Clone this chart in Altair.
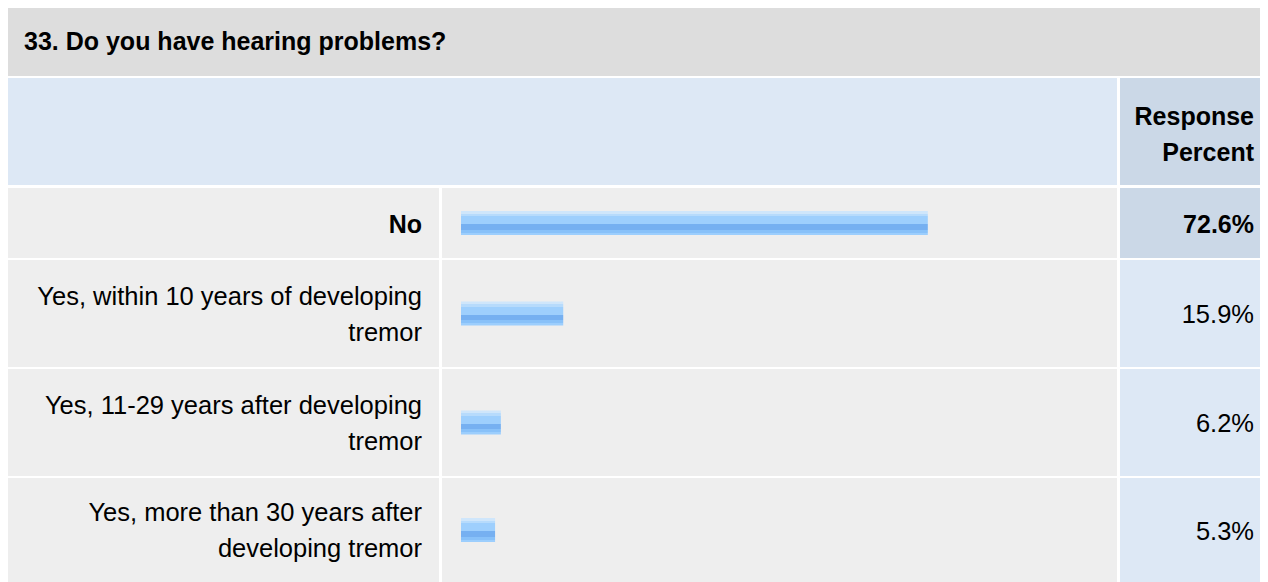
import altair as alt
import pandas as pd

# ---- data ----
question = "33. Do you have hearing problems?"
column_header = "Response\nPercent"
answers = [
    "No",
    "Yes, within 10 years of developing tremor",
    "Yes, 11-29 years after developing tremor",
    "Yes, more than 30 years after developing tremor",
]
answer_lines = [
    "No",
    "Yes, within 10 years of developing\ntremor",
    "Yes, 11-29 years after developing\ntremor",
    "Yes, more than 30 years after\ndeveloping tremor",
]
percents = [72.6, 15.9, 6.2, 5.3]
percent_labels = ["72.6%", "15.9%", "6.2%", "5.3%"]
highlight = [True, False, False, False]

# ---- style ----
W = 1252
FONT = "Liberation Sans"
FS_BOLD = 25
FS_REG = 25.5
GRAY = "#dddddd"
ROW_BG = "#eeeeee"
LIGHT_BLUE = "#dde8f5"
DARK_BLUE = "#cbd8e7"
row_heights = [70, 107, 107, 104]

bar_fill = alt.Gradient(
    gradient="linear",
    x1=0, x2=0, y1=0, y2=1,
    stops=[
        alt.GradientStop(color="#cfe6fb", offset=0.0),
        alt.GradientStop(color="#cfe6fb", offset=0.11),
        alt.GradientStop(color="#b7dbfc", offset=0.11),
        alt.GradientStop(color="#b7dbfc", offset=0.21),
        alt.GradientStop(color="#9ecffd", offset=0.21),
        alt.GradientStop(color="#9ecffd", offset=0.56),
        alt.GradientStop(color="#76b0f1", offset=0.56),
        alt.GradientStop(color="#76b0f1", offset=0.79),
        alt.GradientStop(color="#88c1f9", offset=0.79),
        alt.GradientStop(color="#88c1f9", offset=0.90),
        alt.GradientStop(color="#9ccefd", offset=0.90),
        alt.GradientStop(color="#9ccefd", offset=1.0),
    ],
)

# ---- header panel ----
hdr = pd.DataFrame({"q": [question], "h": [column_header]})
hb = alt.Chart(hdr)
header_panel = alt.layer(
    hb.mark_rect(color=GRAY).encode(
        x=alt.value(0), x2=alt.value(W), y=alt.value(0), y2=alt.value(68)),
    hb.mark_rect(color=LIGHT_BLUE).encode(
        x=alt.value(0), x2=alt.value(1109), y=alt.value(70), y2=alt.value(177)),
    hb.mark_rect(color=DARK_BLUE).encode(
        x=alt.value(1112), x2=alt.value(W), y=alt.value(70), y2=alt.value(177)),
    hb.mark_text(align="left", baseline="middle", font=FONT, fontSize=FS_BOLD,
                 fontWeight="bold", color="#000000").encode(
        x=alt.value(16), y=alt.value(34), text="q:N"),
    hb.mark_text(align="right", baseline="middle", font=FONT, fontSize=FS_BOLD,
                 fontWeight="bold", color="#000000", lineBreak="\n",
                 lineHeight=36).encode(
        x=alt.value(1246), y=alt.value(109), text="h:N"),
).properties(width=W, height=178)


def row_panel(i):
    h = row_heights[i]
    df = pd.DataFrame({
        "answer": [answers[i]],
        "label": [answer_lines[i]],
        "pct": [percents[i]],
        "pct_label": [percent_labels[i]],
    })
    b = alt.Chart(df)
    weight = "bold" if highlight[i] else "normal"
    fs = FS_BOLD if highlight[i] else FS_REG
    multi = "\n" in answer_lines[i]
    yenc = alt.Y("answer:N", axis=None,
                 scale=alt.Scale(paddingInner=0, paddingOuter=0))
    return alt.layer(
        b.mark_rect(color=ROW_BG).encode(
            x=alt.value(0), x2=alt.value(431), y=alt.value(0), y2=alt.value(h)),
        b.mark_rect(color=ROW_BG).encode(
            x=alt.value(434), x2=alt.value(1109), y=alt.value(0), y2=alt.value(h)),
        b.mark_rect(color=DARK_BLUE if highlight[i] else LIGHT_BLUE).encode(
            x=alt.value(1112), x2=alt.value(W), y=alt.value(0), y2=alt.value(h)),
        b.mark_bar(size=24, color=bar_fill).encode(
            x=alt.X("pct:Q", axis=None,
                    scale=alt.Scale(domain=[0, 100], range=[453, 1096])),
            y=yenc),
        b.mark_text(align="right", baseline="middle", font=FONT, fontSize=fs,
                    fontWeight=weight, color="#000000", lineBreak="\n",
                    lineHeight=36, dy=-17 if multi else 1.5).encode(
            x=alt.value(414), y=yenc, text="label:N"),
        b.mark_text(align="right", baseline="middle", font=FONT, fontSize=fs,
                    fontWeight=weight, color="#000000", dy=1.5).encode(
            x=alt.value(1246), y=yenc, text="pct_label:N"),
    ).properties(width=W, height=h)


chart = alt.vconcat(
    header_panel, *[row_panel(i) for i in range(len(answers))], spacing=2
).properties(padding=0, background="#ffffff").configure_view(strokeWidth=0)

chart.save("out.html", embed_options={"renderer": "svg", "actions": False})
